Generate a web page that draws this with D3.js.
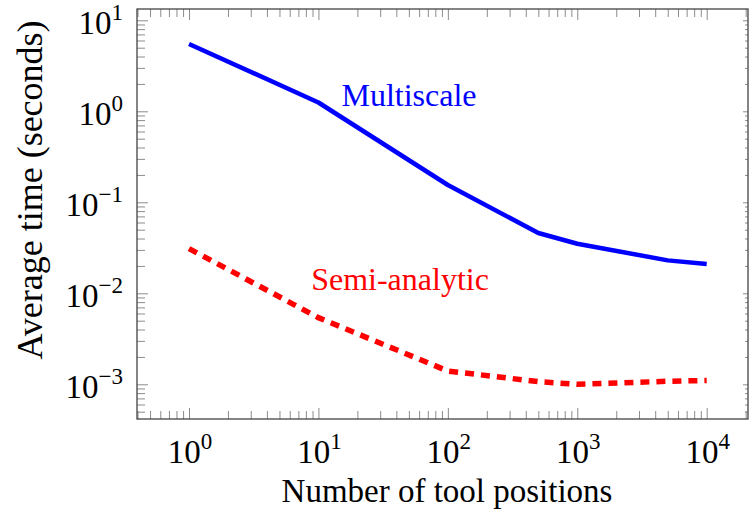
<!DOCTYPE html>
<html>
<head>
<meta charset="utf-8">
<script src="https://cdn.jsdelivr.net/npm/d3@7"></script>
<style>
  body { margin: 0; background: #fff; }
</style>
</head>
<body>
<div id="chart"></div>
<script>
// tool positions (x) and average times in seconds (y)
let positions = [1, 10, 100, 500, 1000, 5000, 10000]
let multiscale = [5.5, 1.25, 0.155, 0.046, 0.035, 0.023, 0.021]
let semiAnalytic = [0.031, 0.0054, 0.0014, 0.00107, 0.00100, 0.00108, 0.0011]
let xTickExps = [0, 1, 2, 3, 4]
let yTickExps = [-3, -2, -1, 0, 1]

let width = 750
let height = 509
let serif = "'Liberation Serif', 'DejaVu Serif', serif"

// plot box in pixels
let boxL = 137, boxR = 748, boxT = 9, boxB = 419

let svg = d3.select("#chart")
            .append("svg")
            .attr("width", width)
            .attr("height", height)
            .attr("font-family", serif)
            .style("font-family", serif)

// anchor scales on decade positions, then stretch the domain to the box edges
let x0 = d3.scaleLog().domain([1, 1e4]).range([189, 706.7])
let y0 = d3.scaleLog().domain([1e-3, 10]).range([384.3, 20.3])

let x = d3.scaleLog().domain([x0.invert(boxL), x0.invert(boxR)]).range([boxL, boxR])
let y = d3.scaleLog().domain([y0.invert(boxB), y0.invert(boxT)]).range([boxB, boxT])

function minorTicks(scale) {
    let [a, b] = scale.domain()
    let lo = Math.min(a, b), hi = Math.max(a, b)
    let out = []
    for (let e = Math.floor(Math.log10(lo)); e <= Math.ceil(Math.log10(hi)); e++) {
        for (let m = 2; m <= 9; m++) {
            let v = m * Math.pow(10, e)
            if (v >= lo && v <= hi) out.push(v)
        }
    }
    return out
}

let majorX = xTickExps.map(e => Math.pow(10, e))
let majorY = yTickExps.map(e => Math.pow(10, e))
let tickColor = "#8c8c8c"

// ticks, all pointing inward
let ticksG = svg.append("g")
function drawTicks(axisGen, transform, len, vals) {
    ticksG.append("g")
        .attr("transform", transform)
        .call(axisGen.tickValues(vals).tickSize(len).tickFormat(""))
        .call(g => g.select(".domain").remove())
        .call(g => g.selectAll("line").attr("stroke", tickColor).attr("stroke-width", 1))
}
drawTicks(d3.axisTop(x), `translate(0,${boxB})`, 11, majorX)
drawTicks(d3.axisTop(x), `translate(0,${boxB})`, 8, minorTicks(x))
drawTicks(d3.axisBottom(x), `translate(0,${boxT})`, 11, majorX)
drawTicks(d3.axisBottom(x), `translate(0,${boxT})`, 8, minorTicks(x))
drawTicks(d3.axisRight(y), `translate(${boxL},0)`, 11, majorY)
drawTicks(d3.axisRight(y), `translate(${boxL},0)`, 8, minorTicks(y))
drawTicks(d3.axisLeft(y), `translate(${boxR},0)`, 5, majorY)
drawTicks(d3.axisLeft(y), `translate(${boxR},0)`, 3, minorTicks(y))

// frame
svg.append("rect")
    .attr("x", boxL).attr("y", boxT)
    .attr("width", boxR - boxL).attr("height", boxB - boxT)
    .attr("fill", "none")
    .attr("stroke", "#444")
    .attr("stroke-width", 1.3)

// tick labels
function powLabel(sel, e) {
    sel.append("tspan").text("10")
    sel.append("tspan")
        .attr("dy", -14)
        .attr("font-size", 23)
        .text(e < 0 ? "\u2212" + (-e) : e)
}

svg.selectAll(".xlab")
    .data(xTickExps)
    .enter()
    .append("text")
    .attr("class", "xlab")
    .attr("x", d => x(Math.pow(10, d)) + 1)
    .attr("y", 463)
    .attr("text-anchor", "middle")
    .attr("font-size", 33)
    .attr("fill", "#000")
    .each(function (d) { powLabel(d3.select(this), d) })

svg.selectAll(".ylab")
    .data(yTickExps)
    .enter()
    .append("text")
    .attr("class", "ylab")
    .attr("x", 123)
    .attr("y", d => y(Math.pow(10, d)) + 14)
    .attr("text-anchor", "end")
    .attr("font-size", 33)
    .attr("fill", "#000")
    .each(function (d) { powLabel(d3.select(this), d) })

// axis titles
svg.append("text")
    .attr("x", 447)
    .attr("y", 502)
    .attr("text-anchor", "middle")
    .attr("font-size", 33)
    .text("Number of tool positions")

svg.append("text")
    .attr("transform", "translate(42,190) rotate(-90)")
    .attr("text-anchor", "middle")
    .attr("font-size", 36)
    .text("Average time (seconds)")

// lines
let line = d3.line()
    .x(d => x(d[0]))
    .y(d => y(d[1]))

svg.append("path")
    .datum(positions.map((p, i) => [p, multiscale[i]]))
    .attr("d", line)
    .attr("fill", "none")
    .attr("stroke", "#0000ff")
    .attr("stroke-width", 4.5)
    .attr("stroke-linejoin", "round")

svg.append("path")
    .datum(positions.map((p, i) => [p, semiAnalytic[i]]))
    .attr("d", line)
    .attr("fill", "none")
    .attr("stroke", "#ff0000")
    .attr("stroke-width", 5.5)
    .attr("stroke-dasharray", "9,7")

// series labels
svg.append("text")
    .attr("x", 409)
    .attr("y", 106)
    .attr("text-anchor", "middle")
    .attr("font-size", 32)
    .attr("fill", "#0000ff")
    .text("Multiscale")

svg.append("text")
    .attr("x", 400)
    .attr("y", 290)
    .attr("text-anchor", "middle")
    .attr("font-size", 32)
    .attr("fill", "#ff0000")
    .text("Semi-analytic")
</script>
</body>
</html>
